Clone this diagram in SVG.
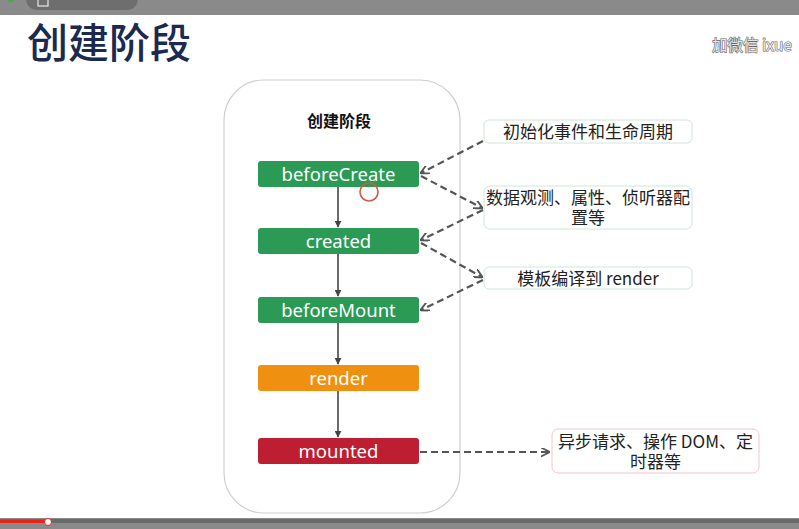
<svg xmlns="http://www.w3.org/2000/svg" width="799" height="529" viewBox="0 0 799 529">
  <defs>
    <marker id="arrow-solid" viewBox="0 0 10 10" refX="9" refY="5" markerWidth="7" markerHeight="7" orient="auto" markerUnits="userSpaceOnUse">
      <path d="M0,0 L10,5 L0,10 z" fill="#444"/>
    </marker>
    <marker id="arrow-dash" viewBox="0 0 10 10" refX="9" refY="5" markerWidth="9" markerHeight="9" orient="auto" markerUnits="userSpaceOnUse">
      <path d="M0,0 L10,5 L0,10" fill="none" stroke="#555" stroke-width="2"/>
    </marker>
  </defs>
  <style>
    .hook { stroke: none; }
    .hook-text { font-family: "Noto Sans", "Open Sans", sans-serif; font-size: 18.5px; fill: #ffffff; text-anchor: middle; }
    .note { fill: #ffffff; stroke-width: 1; }
    .note-text { font-family: "Noto Sans CJK SC", sans-serif; font-size: 17px; fill: #222; text-anchor: middle; }
    .flow { stroke: #444; stroke-width: 1.6; fill: none; marker-end: url(#arrow-solid); }
    .dash { stroke: #555; stroke-width: 2.2; stroke-dasharray: 7 4; fill: none; marker-end: url(#arrow-dash); }
  </style>

  <rect width="799" height="529" fill="#ffffff"/>

  <!-- player top bar -->
  <rect x="0" y="0" width="799" height="15" fill="#8a8a8a"/>
  <rect x="26" y="-12" width="112" height="22" rx="11" fill="#6e6e6e"/>
  <rect x="38" y="-4" width="10" height="10" fill="none" stroke="#e8e8e8" stroke-width="1.2"/>
  <circle cx="11" cy="-1" r="3" fill="#3cb043"/>

  <!-- slide title -->
  <text x="27" y="58" font-family="Noto Sans CJK SC, sans-serif" font-size="41" font-weight="500" fill="#1b2a4e">创建阶段</text>
  <text x="712" y="51" font-family="Noto Sans CJK SC, sans-serif" font-size="15.5" fill="#e6e6e6" stroke="#666" stroke-width="1.1" paint-order="stroke">加微信 ixue</text>

  <!-- stage container -->
  <g id="stage">
    <rect x="224" y="80" width="236" height="433" rx="40" fill="#ffffff" stroke="#cfcfcf" stroke-width="1.2"/>
    <text x="339" y="127" font-family="Noto Sans CJK SC, sans-serif" font-size="16" font-weight="bold" fill="#111" text-anchor="middle">创建阶段</text>
  </g>

  <!-- connectors -->
  <g id="connectors">
    <line class="flow" x1="338" y1="187" x2="338" y2="227"/>
    <line class="flow" x1="338" y1="254" x2="338" y2="296"/>
    <line class="flow" x1="338" y1="323" x2="338" y2="364"/>
    <line class="flow" x1="338" y1="391" x2="338" y2="437"/>
    <line class="dash" x1="483" y1="141" x2="421" y2="173"/>
    <line class="dash" x1="421" y1="176" x2="482" y2="208"/>
    <line class="dash" x1="483" y1="210" x2="421" y2="240"/>
    <line class="dash" x1="421" y1="243" x2="482" y2="277"/>
    <line class="dash" x1="483" y1="280" x2="421" y2="310"/>
    <line class="dash" x1="420" y1="452" x2="549" y2="452"/>
  </g>

  <!-- lifecycle hooks -->
  <g id="beforeCreate">
    <rect class="hook" x="258" y="161" width="161" height="26" rx="3" fill="#2b9a55"/>
    <text class="hook-text" x="338.5" y="180.5">beforeCreate</text>
  </g>
  <g id="created">
    <rect class="hook" x="258" y="228" width="161" height="26" rx="3" fill="#2b9a55"/>
    <text class="hook-text" x="338.5" y="247.5">created</text>
  </g>
  <g id="beforeMount">
    <rect class="hook" x="258" y="297" width="161" height="26" rx="3" fill="#2b9a55"/>
    <text class="hook-text" x="338.5" y="316.5">beforeMount</text>
  </g>
  <g id="render">
    <rect class="hook" x="258" y="365" width="161" height="26" rx="3" fill="#f09010"/>
    <text class="hook-text" x="338.5" y="384.5">render</text>
  </g>
  <g id="mounted">
    <rect class="hook" x="258" y="438" width="161" height="26" rx="3" fill="#bd1e32"/>
    <text class="hook-text" x="338.5" y="457.5">mounted</text>
  </g>

  <!-- notes -->
  <g id="note-init">
    <rect class="note" x="484" y="120" width="208" height="23" rx="5" stroke="#cfe6d7"/>
    <text class="note-text" x="588" y="138">初始化事件和生命周期</text>
  </g>
  <g id="note-data">
    <rect class="note" x="484" y="186" width="208" height="43" rx="6" stroke="#cfe6d7"/>
    <text class="note-text" x="588" y="204">数据观测、属性、侦听器配<tspan x="588" dy="20">置等</tspan></text>
  </g>
  <g id="note-template">
    <rect class="note" x="484" y="267" width="208" height="22" rx="5" stroke="#cfe6d7"/>
    <text class="note-text" x="588" y="284.5">模板编译到 render</text>
  </g>
  <g id="note-async">
    <rect class="note" x="552" y="429" width="207" height="44" rx="6" stroke="#f2c6ce"/>
    <text class="note-text" x="655.5" y="448">异步请求、操作 DOM、定<tspan x="655.5" dy="20">时器等</tspan></text>
  </g>

  <!-- pointer marker -->
  <circle cx="369" cy="192" r="9" fill="none" stroke="#d9573f" stroke-width="1.6"/>

  <!-- player progress bar -->
  <rect x="0" y="518" width="799" height="11" fill="#8a8a8a"/>
  <rect x="0" y="519" width="799" height="4" fill="#6a6a6a"/>
  <rect x="0" y="520" width="48" height="3" fill="#e8231a"/>
  <circle cx="48" cy="522" r="3.5" fill="#ffffff" stroke="#e8231a" stroke-width="1"/>
</svg>
